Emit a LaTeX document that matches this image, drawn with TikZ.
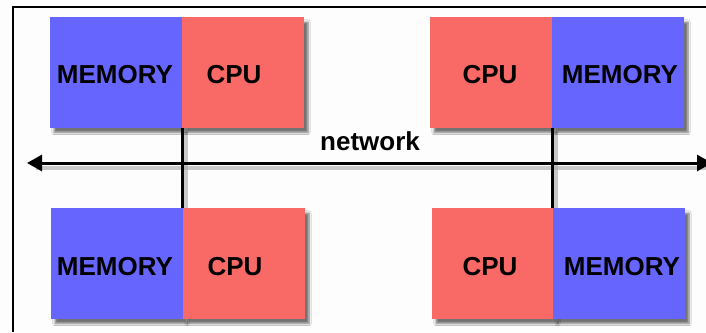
\documentclass[tikz,border=0pt]{standalone}
\usepackage{fontspec}
\setmainfont{Liberation Sans}
\usetikzlibrary{arrows.meta,shadows.blur}
\definecolor{memblue}{HTML}{6666FF}
\definecolor{cpured}{HTML}{F96A66}
\definecolor{bgwhite}{HTML}{FDFDFD}
\tikzset{
  unitbox/.style={rectangle, inner sep=0pt, outer sep=0pt, anchor=north west,
    minimum height=110.5pt,
    blur shadow={shadow xshift=4pt, shadow yshift=-5pt, shadow blur steps=6, shadow opacity=55}},
  membox/.style={unitbox, fill=memblue, minimum width=132pt},
  cpubox/.style={unitbox, fill=cpured, minimum width=122pt},
  lbl/.style={inner sep=0pt, font=\bfseries\fontsize{26}{26}\selectfont},
  wire/.style={line width=3pt, black},
  wireshadow/.style={line width=4pt, black!35, opacity=0.6},
}
\begin{document}
\begin{tikzpicture}[x=1pt,y=-1pt]
\useasboundingbox (0,0) rectangle (706,332);
\fill[bgwhite] (0,0) rectangle (706,332);
\draw[line width=1.5pt] (13,332) -- (13,7) -- (706,7);

% network shadows
\draw[wireshadow] (36,168) -- (706,168);
\draw[wireshadow] (186,132) -- (186,208);
\draw[wireshadow] (556,132) -- (556,208);

% top-left pair
\node[membox] (m1) at (50,17) {};
\node[cpubox] (c1) at (182,17) {};
% top-right pair
\node[cpubox] (c2) at (430,17) {};
\node[membox] (m2) at (552,17) {};
% bottom-left pair
\node[membox] (m3) at (51,208) {};
\node[cpubox] (c3) at (183,208) {};
% bottom-right pair
\node[cpubox] (c4) at (432,208) {};
\node[membox] (m4) at (553,208) {};

% labels
\node[lbl] (tm1) at (115,75) {MEMORY};
\node[lbl] (tc1) at (234,75) {CPU};
\node[lbl] (tc2) at (490,75) {CPU};
\node[lbl] (tm2) at (620,75) {MEMORY};
\node[lbl] (tm3) at (115,267) {MEMORY};
\node[lbl] (tc3) at (235,267) {CPU};
\node[lbl] (tc4) at (490,267) {CPU};
\node[lbl] (tm4) at (622,267) {MEMORY};

% network
\coordinate (netL) at (27,163);
\coordinate (netR) at (712,163);
\draw[wire, {Triangle[length=15pt,width=16pt]}-{Triangle[length=15pt,width=16pt]}] (netL) -- (netR);
\node[inner sep=0pt, font=\bfseries\fontsize{26}{26}\selectfont] (net) at (370,141) {network};

% connectors
\draw[wire] (m1.south east) -- (m1.south east |- m3.north);
\draw[wire] (c2.south east) -- (c2.south east |- c4.north);
\end{tikzpicture}
\end{document}
